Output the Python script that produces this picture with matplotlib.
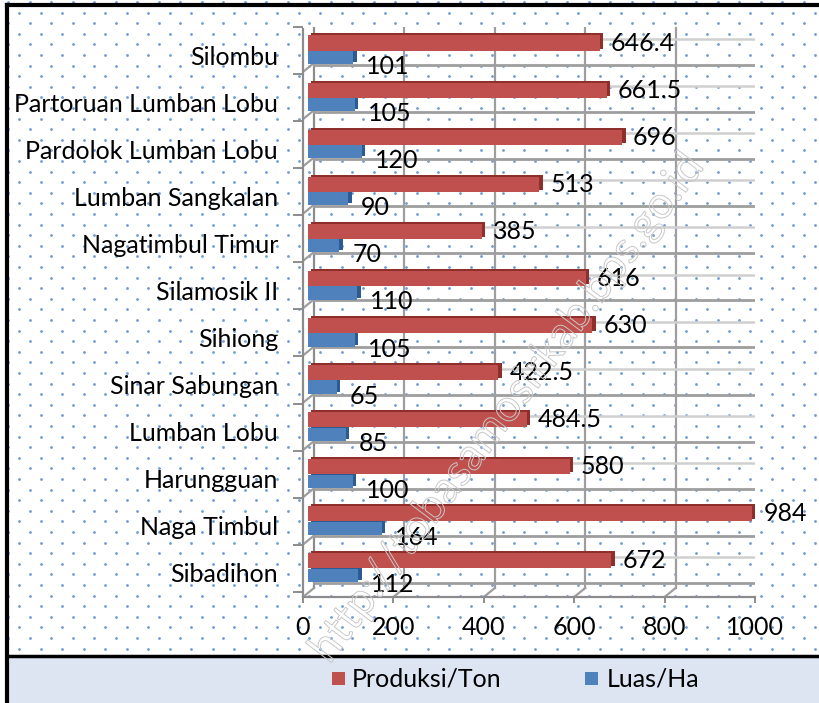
import numpy as np
import matplotlib
matplotlib.use("Agg")
import matplotlib.pyplot as plt
import matplotlib.transforms as mtransforms
import matplotlib.patheffects as pe
from matplotlib.patches import Rectangle

plt.rcParams['font.family'] = ['Lato', 'DejaVu Sans']

desa = ['Silombu', 'Partoruan Lumban Lobu', 'Pardolok Lumban Lobu', 'Lumban Sangkalan',
        'Nagatimbul Timur', 'Silamosik II', 'Sihiong', 'Sinar Sabungan', 'Lumban Lobu',
        'Harungguan', 'Naga Timbul', 'Sibadihon']
produksi = [646.4, 661.5, 696, 513, 385, 616, 630, 422.5, 484.5, 580, 984, 672]
luas = [101, 105, 120, 90, 70, 110, 105, 65, 85, 100, 164, 112]
xticks = [0, 200, 400, 600, 800, 1000]

RED, RED_D = '#c0504d', '#8e2f2c'
BLUE, BLUE_D = '#4f81bd', '#2c5a92'
GRID = '#9e9e9e'
FS = 18

W, H = 819, 703
fig = plt.figure(figsize=(W / 100, H / 100), dpi=100)

# background: dotted pattern, border, legend panel (pixel coords)
bg = fig.add_axes([0, 0, 1, 1], zorder=0)
bg.set_xlim(0, W)
bg.set_ylim(H, 0)
bg.axis('off')
dx, dy = 21.5, 10.6
pts = []
for r, yy in enumerate(np.arange(2, 656, dy)):
    x0 = 8.3 if r % 2 == 0 else 8.3 + dx / 2
    for xx in np.arange(x0, W, dx):
        pts.append((xx, yy))
pts = np.array(pts)
bg.scatter(pts[:, 0], pts[:, 1], s=4, color='#6f9bd6', linewidths=0)
bg.add_patch(Rectangle((7, 656), W, 60, facecolor='#dde5f3', edgecolor='none'))
bg.plot([7, W], [656, 656], color='black', lw=2.5)
bg.plot([7, W], [5, 5], color='black', lw=3)
bg.plot([7, 7], [5, H], color='black', lw=3)

# legend
bg.add_patch(Rectangle((332, 672), 13, 13, facecolor=RED, edgecolor='none'))
bg.text(352, 679, 'Produksi/Ton', fontsize=FS, va='center', ha='left')
bg.add_patch(Rectangle((585, 672), 13, 13, facecolor=BLUE, edgecolor='none'))
bg.text(607, 679, 'Luas/Ha', fontsize=FS, va='center', ha='left')

# main chart
top_px, bot_px = 27, 597
ax = fig.add_axes([303 / W, 1 - bot_px / H, 452 / W, (bot_px - top_px) / H], zorder=1)
ax.patch.set_alpha(0)
ylo, yhi = 11.61, -0.45
ax.set_xlim(0, 1000)
ax.set_ylim(ylo, yhi)
for s in ax.spines.values():
    s.set_visible(False)

back = ax.transData + mtransforms.ScaledTranslation(0.11, 0.09, fig.dpi_scale_trans)

# back wall grid
for v in xticks:
    ax.plot([v, v], [ylo, yhi], transform=back, color='#8c8c8c' if v in (0, 1000) else GRID,
            lw=3 if v == 1000 else 1.6, zorder=1)
ax.plot([0, 1000], [yhi, yhi], transform=back, color=GRID, lw=1.6, zorder=1)
for i in range(len(desa)):
    ax.plot([0, 1000], [i + 0.5, i + 0.5], transform=back, color=GRID, lw=2, zorder=1)
    ax.plot([0, 1000], [i - 0.05, i - 0.05], transform=back, color='#d0d0d0', lw=1.8, zorder=1)

# side wall / floor edges in display coords
fig.canvas.draw()
def seg(p, q, **kw):
    a = ax.transData.transform(p)
    b = back.transform(q)
    ax.plot([a[0], b[0]], [a[1], b[1]], transform=mtransforms.IdentityTransform(), **kw)
for i in range(-1, len(desa)):
    b = i + 0.5 if i < len(desa) - 1 else ylo
    seg((0, b), (0, b), color=GRID, lw=1.6, zorder=1)
seg((1000, ylo), (1000, ylo), color=GRID, lw=1.6, zorder=1)
for v in xticks[1:-1]:
    seg((v, ylo), (v, ylo), color=GRID, lw=1.6, zorder=1)
ax.plot([0, 1000], [ylo, ylo], color='#8c8c8c', lw=1.6, zorder=2, clip_on=False)
ax.plot([0, 0], [yhi, ylo], color='#8c8c8c', lw=1.6, zorder=2, clip_on=False)

# bars with depth
y = np.arange(len(desa))
start = 10
depth = mtransforms.ScaledTranslation(0.035, 0.02, fig.dpi_scale_trans)
ax.barh(y - 0.16, produksi, height=0.32, left=start, color=RED_D, transform=ax.transData + depth, zorder=3)
ax.barh(y + 0.15, luas, height=0.28, left=start, color=BLUE_D, transform=ax.transData + depth, zorder=3)
ax.barh(y - 0.16, produksi, height=0.32, left=start, color=RED, zorder=4)
ax.barh(y + 0.15, luas, height=0.28, left=start, color=BLUE, zorder=4)

for i in range(len(desa)):
    ax.annotate(f'{produksi[i]:g}', xy=(produksi[i] + start, i - 0.16), xytext=(11, 0),
                textcoords='offset pixels', va='center', ha='left', fontsize=FS, zorder=5,
                annotation_clip=False)
    ax.annotate(f'{luas[i]:g}', xy=(luas[i] + start, i + 0.15), xytext=(13, -9),
                textcoords='offset pixels', va='center', ha='left', fontsize=FS, zorder=5,
                annotation_clip=False)

# ticks
ax.set_xticks(xticks)
ax.set_xticklabels([str(v) for v in xticks], fontsize=FS)
ax.tick_params(axis='x', length=4, width=1.4, color='#8c8c8c', pad=10)
ax.set_yticks(y + 0.1)
ax.set_yticklabels(desa, fontsize=FS)
ax.tick_params(axis='y', length=0, pad=18)
ax.set_yticks(np.arange(-0.5, len(desa), 1.0), minor=True)
ax.tick_params(axis='y', which='minor', length=7, width=1.4, color='#8c8c8c')

# watermark
fig.text(0.62, 0.42, 'http://tobasamosirkab.bps.go.id', fontsize=32, rotation=53,
         ha='center', va='center', color='none', zorder=2,
         path_effects=[pe.Stroke(linewidth=0.7, foreground='#c8c8c8')])

fig.savefig('out.png', dpi=100)
